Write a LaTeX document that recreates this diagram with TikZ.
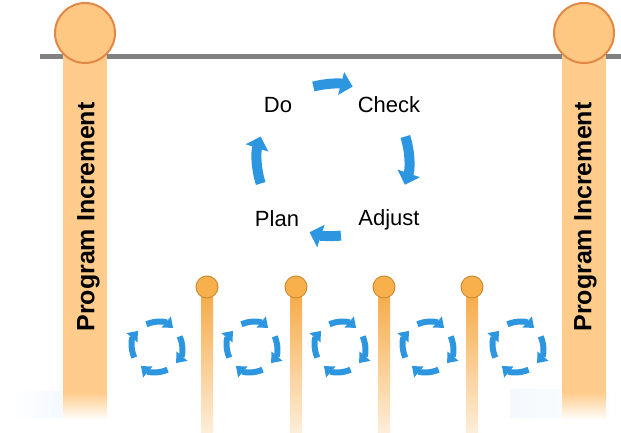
\documentclass[tikz,border=0pt]{standalone}
\usepackage{fontspec}
\setmainfont{Liberation Sans}
\usetikzlibrary{arrows.meta}

\definecolor{pillar}{RGB}{255,204,140}
\definecolor{knobfill}{RGB}{255,200,130}
\definecolor{knobline}{RGB}{226,136,70}
\definecolor{posttop}{RGB}{245,168,66}
\definecolor{postbot}{RGB}{254,238,218}
\definecolor{postknobfill}{RGB}{247,176,76}
\definecolor{postknobline}{RGB}{205,140,50}
\definecolor{cycblue}{RGB}{44,150,224}
\definecolor{railgray}{RGB}{128,128,128}
\definecolor{haze}{RGB}{244,249,254}

\begin{document}
\begin{tikzpicture}[x=1pt,y=1pt,
  lbl/.style={font=\fontsize{22}{24}\selectfont, anchor=base, inner sep=0pt},
  pitext/.style={font=\fontsize{25}{27}\selectfont\bfseries, rotate=90, inner sep=0pt},
  bigarrow/.style={line width=10pt, color=cycblue, -{Triangle[length=12pt,width=23pt]}},
  smallarrow/.style={line width=6pt, color=cycblue, -{Triangle[length=9pt,width=14pt]}},
  bigknob/.style={circle, minimum size=60pt, inner sep=0pt, fill=knobfill, draw=knobline, line width=2pt},
  postknob/.style={circle, minimum size=22pt, inner sep=0pt, fill=postknobfill, draw=postknobline, line width=1pt}]

\useasboundingbox (0,0) rectangle (621,433);

% faint floor haze at both sides
\shade[left color=white, right color=haze] (10,15) rectangle (63,41);
\shade[left color=haze, right color=white] (510,15) rectangle (621,43);

% top rail
\draw[railgray, line width=5pt] (40,376) -- (621,376);

% program increment pillars
\foreach \px/\nm in {85/left,584/right} {
  \fill[pillar] (\px-22,40) rectangle (\px+22,400);
  \shade[top color=pillar, bottom color=white] (\px-22,13) rectangle (\px+22,40.5);
  \node[bigknob] (\nm knob) at (\px,400) {};
}
\node[pitext] (lefttext) at (88.5,216) {Program Increment};
\node[pitext] (righttext) at (585.5,216) {Program Increment};

% iteration posts
\foreach \px [count=\i] in {207,296,384,472} {
  \shade[top color=posttop, bottom color=postbot] (\px-6,0) rectangle (\px+6,146);
  \node[postknob] (post\i) at (\px,146) {};
}

% PDCA cycle
\coordinate (cyc) at (333,273);
\node[lbl] (do) at (278,320) {Do};
\node[lbl] (check) at (389,320) {Check};
\node[lbl] (plan) at (277,206) {Plan};
\node[lbl] (adjust) at (389,207) {Adjust};
\draw[bigarrow] (cyc) ++(105:76) arc[start angle=105, end angle=75, radius=76];
\draw[bigarrow] (cyc) ++(18:76) arc[start angle=18, end angle=-19, radius=76];
\draw[bigarrow] (cyc) ++(-84:76) arc[start angle=-84, end angle=-108, radius=76];
\draw[bigarrow] (cyc) ++(198:76) arc[start angle=198, end angle=162, radius=76];

% small iteration cycles
\foreach \cx [count=\i] in {157,252,340,428,518} {
  \coordinate (sc\i) at (\cx,86);
  \foreach \a in {90,0,-90,180}
    \draw[smallarrow] (sc\i) ++(\a+25:25) arc[start angle=\a+25, end angle=\a-40, radius=25];
}
\end{tikzpicture}
\end{document}
